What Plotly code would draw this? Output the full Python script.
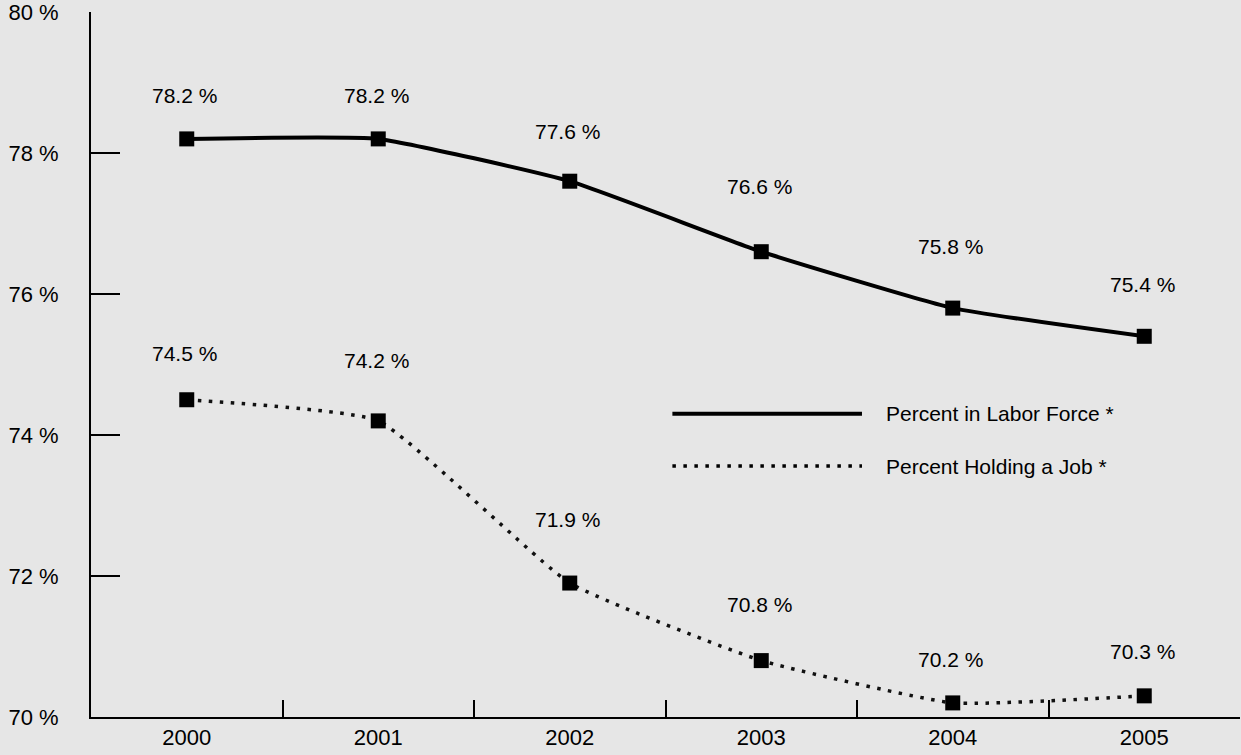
import plotly.graph_objects as go

years = ["2000", "2001", "2002", "2003", "2004", "2005"]
labor_force = [78.2, 78.2, 77.6, 76.6, 75.8, 75.4]
holding_job = [74.5, 74.2, 71.9, 70.8, 70.2, 70.3]
series_names = ["Percent in Labor Force *", "Percent Holding a Job *"]
y_ticks = [70, 72, 74, 76, 78, 80]
y_tick_labels = ["70 %", "72 %", "74 %", "76 %", "78 %", "80 %"]

# label pixel offsets above points (styling)
shift_lf = [43, 43, 50, 65, 62, 52]
shift_hj = [46, 60, 64, 56, 43, 44]

BG = "#e6e6e6"
FONT = "Liberation Sans, Arial, Helvetica, sans-serif"
DOT = "3.5px,7.5px"

fig = go.Figure()
fig.add_trace(go.Scatter(
    x=years, y=labor_force, mode="lines+markers", name=series_names[0],
    line=dict(color="black", width=4, shape="spline", smoothing=0.4),
    marker=dict(symbol="square", size=15, color="black"),
    showlegend=False,
))
fig.add_trace(go.Scatter(
    x=years, y=holding_job, mode="lines+markers", name=series_names[1],
    line=dict(color="#111111", width=3.5, shape="spline", smoothing=0.4, dash=DOT),
    marker=dict(symbol="square", size=15, color="black"),
    showlegend=False,
))

for vals, shifts in ((labor_force, shift_lf), (holding_job, shift_hj)):
    for i, (v, s) in enumerate(zip(vals, shifts)):
        fig.add_annotation(x=i, y=v, xref="x", yref="y", text=f"{v:.1f} %", showarrow=False,
                           yshift=s, xshift=-2, font=dict(size=21, color="black", family=FONT))

# manual legend
legend_rows = [(0.430, "solid", 4), (0.356, DOT, 3.5)]
for (yp, dash, w), name in zip(legend_rows, series_names):
    fig.add_shape(type="line", xref="paper", yref="paper",
                  x0=0.506, x1=0.671, y0=yp, y1=yp,
                  line=dict(color="black", width=w, dash=dash))
    fig.add_annotation(xref="paper", yref="paper", x=0.69, y=yp, xanchor="left",
                       text=name, showarrow=False,
                       font=dict(size=21, color="black", family=FONT))

fig.update_layout(
    width=1241, height=755,
    paper_bgcolor=BG, plot_bgcolor=BG,
    margin=dict(l=91, r=1, t=12, b=38),
    font=dict(family=FONT, size=21, color="black"),
    showlegend=False,
)
fig.update_xaxes(
    type="category", range=[-0.5, 5.5], showgrid=False, zeroline=False,
    showline=True, linecolor="black", linewidth=2,
    ticks="inside", tickson="boundaries", ticklen=17, tickwidth=2, tickcolor="black",
    tickfont=dict(size=22),
)
fig.update_yaxes(
    range=[70, 80], showgrid=False, zeroline=False,
    showline=True, linecolor="black", linewidth=2,
    tickvals=y_ticks, ticktext=y_tick_labels,
    ticks="inside", ticklen=29, tickwidth=2, tickcolor="black",
    ticklabelstandoff=26, ticklabeloverflow="allow",
    tickfont=dict(size=22),
)

fig.write_html("out.html")
